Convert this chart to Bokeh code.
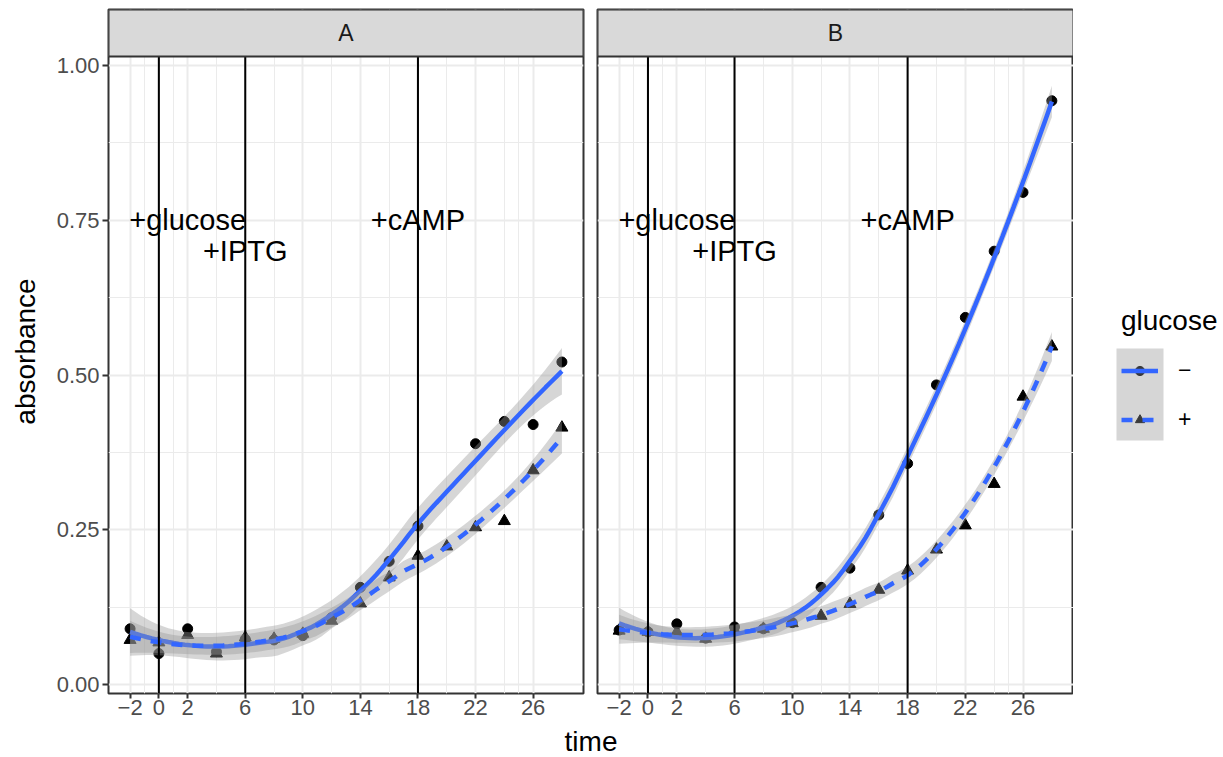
import numpy as np
from bokeh.plotting import figure
from bokeh.models import (Range1d, FixedTicker, Grid, ColumnDataSource, Legend,
                          LegendItem, BoxAnnotation, NumeralTickFormatter)
from bokeh.layouts import row, column
from bokeh.core.properties import value
from bokeh.embed import file_html
from bokeh.resources import INLINE

# ---------------- data ----------------
facets = ["A", "B"]
glucose_levels = ["\u2212", "+"]

time_all = [-2, 0, 2, 4, 6, 8, 10, 12, 14, 16, 18, 20, 22, 24, 26, 28]
time_A_minus = [-2, 0, 2, 4, 6, 8, 10, 12, 14, 16, 18, 22, 24, 26, 28]

A_minus = [0.090, 0.050, 0.090, 0.053, 0.073, 0.072, 0.079, 0.108, 0.157, 0.199, 0.256,
           0.389, 0.425, 0.420, 0.521]
A_plus = [0.072, 0.068, 0.080, 0.050, 0.076, 0.074, 0.082, 0.103, 0.131, 0.173, 0.208,
          0.223, 0.254, 0.264, 0.346, 0.415]
B_minus = [0.088, 0.085, 0.098, 0.075, 0.093, 0.090, 0.100, 0.157, 0.188, 0.274, 0.357,
           0.484, 0.593, 0.700, 0.795, 0.943]
B_plus = [0.087, 0.085, 0.085, 0.074, 0.088, 0.090, 0.099, 0.111, 0.130, 0.153, 0.184,
          0.218, 0.257, 0.324, 0.465, 0.546]

interventions = [0, 6, 18]
ann_labels = ["+glucose", "+IPTG", "+cAMP"]
ann_x = [2, 6, 18]
ann_y = [0.75, 0.70, 0.75]

x_breaks = [-2, 0, 2, 6, 10, 14, 18, 22, 26]
x_minor = [-1, 1, 4, 8, 12, 16, 20, 24, 25]
y_breaks = [0, 0.25, 0.5, 0.75, 1.0]
y_minor = [0.125, 0.375, 0.625, 0.875]
x_lim = (-3.5, 29.5)
y_lim = (-0.0145, 1.0145)

FONT = "Liberation Sans"
BLUE = "#3366FF"
GRID = "#EBEBEB"
BORDER = "#333333"


# ---------------- loess (degree 2, span 0.75) ----------------
def tq975(df):
    z = 1.959964
    g1 = (z**3 + z) / 4
    g2 = (5*z**5 + 16*z**3 + 3*z) / 96
    g3 = (3*z**7 + 19*z**5 + 17*z**3 - 15*z) / 384
    g4 = (79*z**9 + 776*z**7 + 1482*z**5 - 1920*z**3 - 945*z) / 92160
    return z + g1/df + g2/df**2 + g3/df**3 + g4/df**4


def loess(x, y, n_out=80, span=0.75):
    x = np.asarray(x, float)
    y = np.asarray(y, float)
    n = len(x)
    q = int(np.floor(n * span))

    def lrow(x0):
        d = np.abs(x - x0)
        h = max(np.sort(d)[q - 1], 1e-9) * 1.0001
        u = d / h
        w = np.where(u < 1, (1 - u**3)**3, 0.0)
        X = np.column_stack([np.ones(n), x - x0, (x - x0)**2])
        XtW = X.T * w
        return np.linalg.solve(XtW @ X, XtW)[0]

    L = np.array([lrow(v) for v in x])
    res = y - L @ y
    IL = np.eye(n) - L
    M = IL.T @ IL
    d1 = np.trace(M)
    d2 = np.trace(M @ M)
    s = np.sqrt(np.sum(res**2) / d1)
    df = d1**2 / d2
    xs = np.linspace(x.min(), x.max(), n_out)
    Ls = np.array([lrow(v) for v in xs])
    fit = Ls @ y
    se = s * np.sqrt(np.sum(Ls**2, axis=1))
    t = tq975(df)
    return xs, fit, fit - t*se, fit + t*se


# ---------------- layout constants (pixels) ----------------
LEFT_A, RIGHT_A = 108, 7
LEFT_B, RIGHT_B = 7, 0
W_A, W_B, W_L = 590, 483, 150
TOP = 9
STRIP_PX = 47
PANEL_PX = 637
BOTTOM = 32
FRAME_H = STRIP_PX + PANEL_PX
PANEL_H = TOP + FRAME_H + BOTTOM
TIME_H = 32

# data value at top of strip (strip is drawn inside the frame, above the panel)
y_strip_top = y_lim[1] + STRIP_PX * (y_lim[1] - y_lim[0]) / PANEL_PX


def make_panel(name, width, left, right, minus_t, minus_y, plus_t, plus_y, show_y):
    p = figure(width=width, height=PANEL_H, x_range=Range1d(*x_lim),
               y_range=Range1d(y_lim[0], y_strip_top),
               toolbar_location=None, output_backend="svg",
               y_axis_location="left" if show_y else None,
               min_border_left=left, min_border_right=right, min_border_top=TOP,
               min_border_bottom=BOTTOM, background_fill_color="white",
               border_fill_color="white", outline_line_color=BORDER, outline_line_width=2)
    p.grid.visible = False
    p.add_layout(Grid(dimension=0, ticker=FixedTicker(ticks=x_breaks, minor_ticks=x_minor),
                      grid_line_color=GRID, grid_line_width=2,
                      minor_grid_line_color=GRID, minor_grid_line_width=1))
    p.add_layout(Grid(dimension=1, ticker=FixedTicker(ticks=y_breaks, minor_ticks=y_minor),
                      grid_line_color=GRID, grid_line_width=2,
                      minor_grid_line_color=GRID, minor_grid_line_width=1))

    # points
    p.scatter(minus_t, minus_y, marker="circle", size=10, color="black")
    p.scatter(plus_t, plus_y, marker="triangle", size=12, color="black")

    # smooths
    for (tt, yy, dash) in [(minus_t, minus_y, "solid"), (plus_t, plus_y, "11 10")]:
        xs, fit, lo, hi = loess(tt, yy)
        src = ColumnDataSource(dict(x=xs, fit=fit, lo=lo, hi=hi))
        p.varea(x="x", y1="lo", y2="hi", source=src, fill_color="#999999", fill_alpha=0.4)
        p.line(x="x", y="fit", source=src, line_color=BLUE, line_width=4.5, line_dash=dash)

    # vertical intervention lines across the panel
    n = len(interventions)
    p.segment(x0=interventions, x1=interventions, y0=[y_lim[0]] * n, y1=[y_lim[1]] * n,
              line_color="black", line_width=2)

    p.text(x=ann_x, y=ann_y, text=ann_labels, text_align="center", text_baseline="middle",
           text_font=value(FONT), text_font_size=value("29px"), text_color="black")

    # facet strip
    p.quad(left=[x_lim[0]], right=[x_lim[1]], bottom=[y_lim[1]], top=[y_strip_top],
           fill_color="#D9D9D9", line_color=BORDER, line_width=2)
    p.text(x=[(x_lim[0] + x_lim[1]) / 2], y=[(y_lim[1] + y_strip_top) / 2], text=[name],
           text_align="center", text_baseline="middle", text_font=value(FONT),
           text_font_size=value("23px"), text_color="#1A1A1A")

    ax = p.xaxis[0]
    ax.ticker = FixedTicker(ticks=x_breaks)
    ax.major_label_overrides = {-2: "\u22122"}
    ax.axis_line_color = None
    ax.major_tick_line_color = BORDER
    ax.major_tick_line_width = 2
    ax.major_tick_in = 0
    ax.major_tick_out = 5
    ax.minor_tick_line_color = None
    ax.major_label_standoff = 1
    ax.major_label_text_font = FONT
    ax.major_label_text_font_size = "22px"
    ax.major_label_text_color = "#4D4D4D"

    if show_y:
        ay = p.yaxis[0]
        ay.ticker = FixedTicker(ticks=y_breaks)
        ay.formatter = NumeralTickFormatter(format="0.00")
        ay.axis_line_color = None
        ay.major_tick_line_color = BORDER
        ay.major_tick_line_width = 2
        ay.major_tick_in = 0
        ay.major_tick_out = 6
        ay.minor_tick_line_color = None
        ay.major_label_standoff = 3
        ay.major_label_text_font = FONT
        ay.major_label_text_font_size = "22px"
        ay.major_label_text_color = "#4D4D4D"
        ay.axis_label = "absorbance"
        ay.axis_label_text_font = FONT
        ay.axis_label_text_font_size = "28px"
        ay.axis_label_text_font_style = "normal"
        ay.axis_label_text_color = "black"
        ay.axis_label_standoff = 13
    return p


panelA = make_panel(facets[0], W_A, LEFT_A, RIGHT_A, time_A_minus, A_minus, time_all, A_plus, True)
panelB = make_panel(facets[1], W_B, LEFT_B, RIGHT_B, time_all, B_minus, time_all, B_plus, False)

# ---------------- legend ----------------
# the legend figure's frame is aligned with the panels' frames (rows TOP .. TOP+FRAME_H),
# so its y range is in pixels measured up from the frame bottom
FRAME_BOTTOM = TOP + FRAME_H
lf = figure(width=W_L, height=PANEL_H, x_range=Range1d(0, W_L), y_range=Range1d(0, FRAME_H),
            x_axis_location=None, y_axis_location=None, toolbar_location=None,
            output_backend="svg", min_border=0, min_border_left=0, min_border_right=0,
            min_border_top=TOP, min_border_bottom=BOTTOM, outline_line_color=None,
            background_fill_color="white", border_fill_color="white")
lf.grid.visible = False
LEG_X = 48
GW = 37
KEY_TOP, KEY_BOTTOM = 348, 440
lf.add_layout(BoxAnnotation(left=LEG_X - 5, right=LEG_X + GW + 5,
                            bottom=FRAME_BOTTOM - KEY_BOTTOM, top=FRAME_BOTTOM - KEY_TOP,
                            fill_color="#D6D6D6", fill_alpha=1.0, line_color=None))
off = [-1000, -999]
c_r = lf.scatter(x=off[:1], y=off[:1], marker="circle", color="#3A3A3A")
l1 = lf.line(x=off, y=off, line_color=BLUE, line_width=4.5)
t_r = lf.scatter(x=off[:1], y=off[:1], marker="triangle", color="#3A3A3A")
l2 = lf.line(x=off, y=off, line_color=BLUE, line_width=4.5, line_dash="11 10")
legend = Legend(items=[LegendItem(label=glucose_levels[0], renderers=[c_r, l1]),
                       LegendItem(label=glucose_levels[1], renderers=[t_r, l2])],
                location=(LEG_X, FRAME_BOTTOM - 433), title="glucose",
                title_text_font=FONT, title_text_font_size="28px",
                title_text_font_style="normal", title_text_color="black", title_standoff=20,
                label_text_font=FONT, label_text_font_size="23px", label_text_color="black",
                label_standoff=20, glyph_width=GW, glyph_height=23, label_height=20,
                spacing=22, padding=0, margin=0, border_line_color=None,
                background_fill_alpha=0.0)
lf.add_layout(legend)

# ---------------- x title ----------------
W_ALL = W_A + W_B + W_L
tf = figure(width=W_ALL, height=TIME_H, x_range=Range1d(0, W_ALL), y_range=Range1d(0, TIME_H),
            x_axis_location=None, y_axis_location=None, toolbar_location=None,
            output_backend="svg", min_border=0, min_border_left=0, min_border_right=0,
            min_border_top=0, min_border_bottom=0, outline_line_color=None,
            background_fill_color="white", border_fill_color="white")
tf.grid.visible = False
x_center = (LEFT_A + W_A + W_B - RIGHT_B) / 2
tf.text(x=[x_center], y=[16], text=["time"], text_align="center", text_baseline="middle",
        text_font=value(FONT), text_font_size=value("28px"), text_color="black")

layout = column(row(panelA, panelB, lf), tf)

open("out.html", "w").write(file_html(layout, INLINE))
